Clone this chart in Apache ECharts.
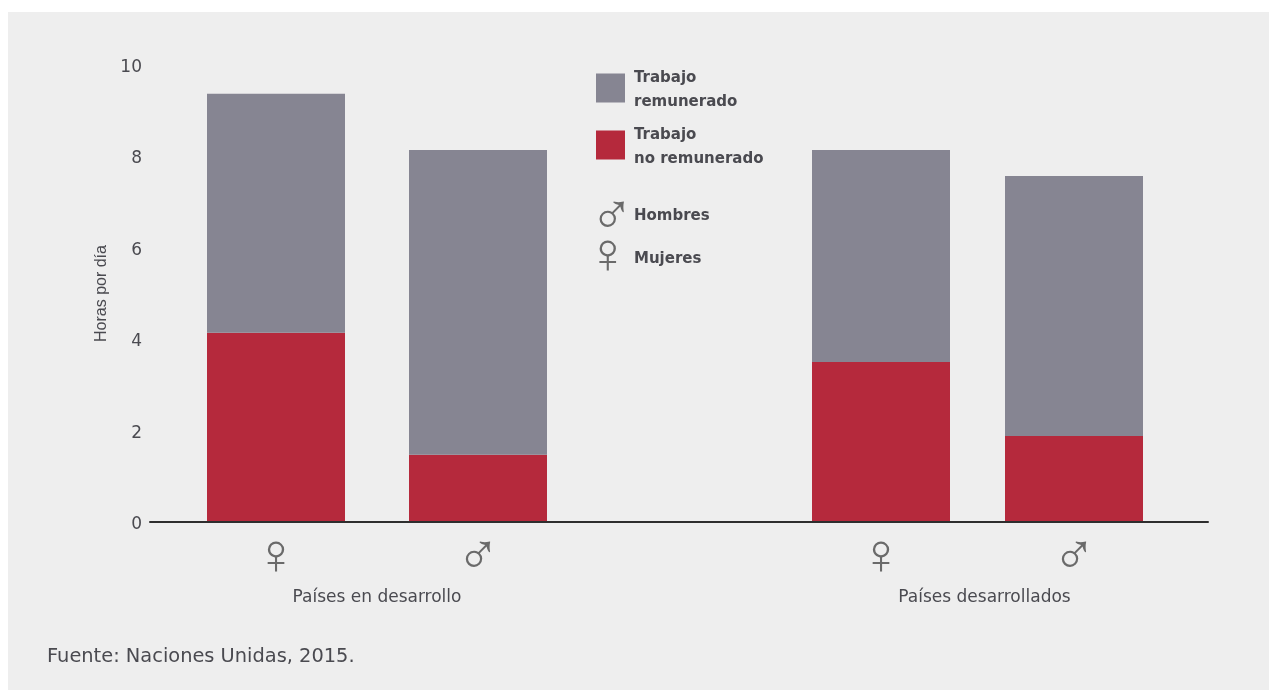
<!DOCTYPE html>
<html><head><meta charset="utf-8">
<style>
html,body{margin:0;padding:0;background:#fff;overflow:hidden}
#panel{position:absolute;left:8px;top:12px;width:1261px;height:678px;background:#eeeeee}
#main{position:absolute;left:0;top:0;width:1269px;height:693px;filter:blur(0.7px)}
</style>
<script src="https://cdn.jsdelivr.net/npm/echarts@6/dist/echarts.min.js"></script>
</head><body><div id="panel"></div><div id="main"></div>
<script>
const sexes = ['♀', '♂'];
const groups = ['Países en desarrollo', 'Países desarrollados'];
const paidName = 'Trabajo\nremunerado';
const unpaidName = 'Trabajo\nno remunerado';
const unpaidDeveloping = [4.14, 1.47];
const paidDeveloping = [5.23, 6.67];
const unpaidDeveloped = [3.5, 1.88];
const paidDeveloped = [4.64, 5.69];
const yTitle = 'Horas por día';
const source = 'Fuente: Naciones Unidas, 2015.';
const grey = '#868592', red = '#b5293c';
const ink = '#4a4a50';
const symbolFont = 'Liberation Sans';

const chart = echarts.init(document.getElementById('main'), null, {renderer:'canvas'});
const gridTop = 65, gridHeight = 457;
function bars(idx, name, data, color, width){
  return {type:'bar', name, data, xAxisIndex:idx, yAxisIndex:idx, stack:'g'+idx,
    barWidth:width, itemStyle:{color}, silent:true, animation:false};
}
function groupAxis(idx, label, pad){
  return {gridIndex:idx, type:'category', data:sexes,
    axisLine:{show:false}, axisTick:{show:false},
    axisLabel:{fontFamily:symbolFont, fontSize:58, color:'#6a6a6a', margin:7},
    name:label, nameLocation:'middle', nameGap:67, nameMoveOverlap:false,
    nameTextStyle:{fontFamily:'DejaVu Sans', fontSize:17, color:ink, padding:[0,0,0,pad]}};
}
function hiddenY(idx){return {gridIndex:idx, type:'value', min:0, max:10, interval:2, show:false};}
chart.setOption({
  animation:false,
  backgroundColor:'transparent',
  grid:[
    {left:150, right:61, top:gridTop, height:gridHeight},
    {left:175, width:404, top:gridTop, height:gridHeight},
    {left:784.5, width:386, top:gridTop, height:gridHeight}
  ],
  xAxis:[
    {gridIndex:0, type:'category', data:[], axisTick:{show:false}, axisLabel:{show:false},
     axisLine:{lineStyle:{color:'#2e2e2e', width:2}}, z:5},
    groupAxis(1, groups[0], 0),
    groupAxis(2, groups[1], 14)
  ],
  yAxis:[
    {gridIndex:0, type:'value', min:0, max:10, interval:2,
     axisLine:{show:false}, axisTick:{show:false}, splitLine:{show:false},
     axisLabel:{fontFamily:'DejaVu Sans', fontSize:17, color:ink, margin:8, verticalAlign:'top', lineHeight:5},
     name:yTitle, nameLocation:'middle', nameGap:40, nameRotate:90,
     nameTextStyle:{fontFamily:'Liberation Sans', fontSize:16, color:ink}},
    hiddenY(1), hiddenY(2)
  ],
  legend:{
    show:true, orient:'vertical', left:591, top:57, itemWidth:29, itemHeight:29, itemGap:5,
    selectedMode:false, icon:'rect', data:[paidName, unpaidName],
    formatter: n => '{s|}\n' + n.split('\n').map(l => '{t|' + l + '}').join('\n'),
    textStyle:{padding:[0,0,0,4], rich:{
      s:{height:4, lineHeight:4, fontSize:1},
      t:{fontFamily:'DejaVu Sans', fontWeight:'bold', fontSize:15, lineHeight:24, height:24, color:ink}
    }}
  },
  series:[
    bars(1, unpaidName, unpaidDeveloping, red, 138),
    bars(1, paidName, paidDeveloping, grey, 138),
    bars(2, unpaidName, unpaidDeveloped, red, 138),
    bars(2, paidName, paidDeveloped, grey, 138)
  ],
  graphic:[
    {type:'text', left:590, top:189, style:{text:'♂', font:'58px "Liberation Sans"', fill:'#6a6a6a'}},
    {type:'text', left:634, top:209, style:{text:'Hombres', font:'bold 15px "DejaVu Sans"', fill:ink}},
    {type:'text', left:586, top:228, style:{text:'♀', font:'58px "Liberation Sans"', fill:'#6a6a6a'}},
    {type:'text', left:634, top:252, style:{text:'Mujeres', font:'bold 15px "DejaVu Sans"', fill:ink}},
    {type:'text', left:47, top:647, style:{text:source, font:'19.4px "DejaVu Sans"', fill:ink}}
  ]
});
</script></body></html>
